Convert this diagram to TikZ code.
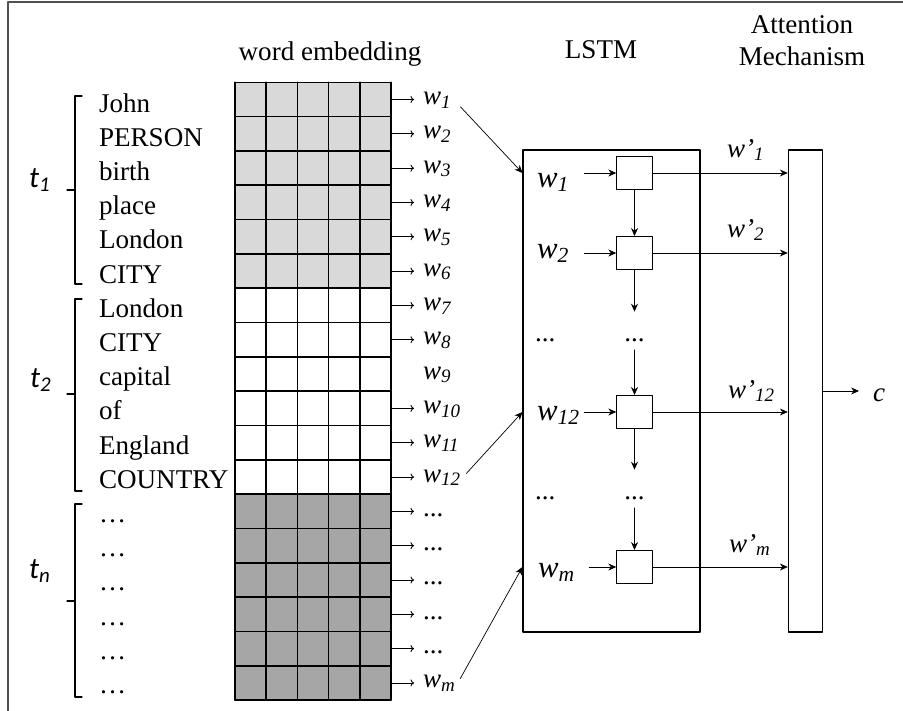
\documentclass[tikz,border=0pt]{standalone}
\usepackage{fontspec}
\setmainfont{Liberation Serif}
\newfontfamily\calfont{Carlito}
\usetikzlibrary{arrows.meta}
\definecolor{embA}{RGB}{217,217,217}
\definecolor{embB}{RGB}{166,166,166}
\definecolor{framegray}{RGB}{80,80,80}
\newcommand{\vw}[1]{\textit{w}\textsubscript{\textit{#1}}}
\newcommand{\vwp}[1]{\textit{w’}\textsubscript{\textit{#1}}}
\newcommand{\tlab}[1]{{\calfont\fontsize{17}{20}\selectfont\itshape t\textsubscript{#1}}}

\begin{document}
\begin{tikzpicture}[x=0.2mm,y=-0.2mm,line cap=round,line join=round,>={Stealth[length=4.5pt,width=4pt]},
  font=\fontsize{15.4}{18.2}\selectfont,
  lbl/.style={inner sep=1pt,anchor=base west},
  wlbl/.style={lbl,text height=3.2mm,text depth=1.2mm},
  inlbl/.style={lbl,font=\fontsize{17.5}{20}\selectfont},
  cell/.style={draw,line width=0.6pt,inner sep=0pt,minimum width=7.1mm,minimum height=6.6mm},
  hdots/.style={inner sep=0pt,text height=5.8mm,text depth=1.7mm,anchor=base},
  bigbox/.style={draw,line width=0.6pt,inner sep=0pt,minimum height=96.4mm},
  small/.style={-{To[length=2pt,width=4pt]},line width=0.5pt,shorten >=1.4mm},
  bracket/.style={line width=0.6pt}]
\useasboundingbox (0,0) rectangle (903,711);
\draw[framegray,line width=1pt] (903,2) -- (8,2) -- (8,711);

\node[anchor=base] (embtitle) at (330,60) {word embedding};
\node[anchor=base] (lstmtitle) at (601,58) {LSTM};
\node[align=center] (atttitle) at (802,41) {Attention\\Mechanism};

\fill[embA] (235,82.3) rectangle (391,288.2);
\fill[embB] (235,494.1) rectangle (391,700);
\foreach \i in {0,...,5} \draw[line width=0.9pt] (235+31.2*\i,82.3) -- (235+31.2*\i,700);
\foreach \j in {0,...,18} \draw[line width=0.9pt] (235,82.3+34.32*\j) -- (391,82.3+34.32*\j);
\coordinate (embR) at (392,82.3);

\foreach \s [count=\j] in {John,PERSON,birth,place,London,CITY,London,CITY,capital,of,England,COUNTRY,…,…,…,…,…,…}
  \node[lbl] (word\j) at (97,112+34.2*\j-34.2) {\s};

\foreach \a/\b/\m in {96/284/190,299/491/394,504/697/601}
  \draw[bracket] (82,\a) -- (75,\a) -- (75,\b) -- (82,\b) (75,\m) -- (67,\m);
\node[lbl] (t1) at (27,187) {\tlab{1}};
\node[lbl] (t2) at (28,387) {\tlab{2}};
\node[lbl] (tn) at (27,578) {\tlab{n}};

\foreach \s [count=\j] in {\vw{1},\vw{2},\vw{3},\vw{4},\vw{5},\vw{6},\vw{7},\vw{8},\vw{9},\vw{10},\vw{11},\vw{12},{.\kern0pt.\kern0pt.},{.\kern0pt.\kern0pt.},{.\kern0pt.\kern0pt.},{.\kern0pt.\kern0pt.},{.\kern0pt.\kern0pt.},\vw{m}}{
  \node[wlbl] (w\j) at (421,104.5+34.32*\j-34.32) {\s};
  \ifnum\j=9\else\draw[small] (w\j.west -| embR) -- (w\j.west);\fi
}

\node[bigbox,minimum width=35.4mm] (lstm) at (611.5,391) {};
\node[bigbox,minimum width=6.8mm] (att) at (805.3,391) {};
\node[cell] (c1) at (634.5,173) {};
\node[cell] (c2) at (634.5,253) {};
\node[cell] (c3) at (634.5,412) {};
\node[cell] (c4) at (634.5,567) {};
\node[hdots] (d1) at (634.5,341) {...};
\node[hdots] (d2) at (634.5,499) {...};
\node[inlbl] (in1) at (535,187) {\vw{1}};
\node[inlbl] (in2) at (535,258) {\vw{2}};
\node[inlbl] (in12) at (535,420) {\vw{12}};
\node[inlbl] (inm) at (536,577) {\vw{m}};
\node[lbl] (ld1) at (533,341) {...};
\node[lbl] (ld2) at (533,499) {...};
\node[lbl] (o1) at (725,157) {\vwp{1}};
\node[lbl] (o2) at (725,237) {\vwp{2}};
\node[lbl] (o12) at (726,398) {\vwp{12}};
\node[lbl] (om) at (727,552) {\vwp{m}};
\node[lbl] (cout) at (871,401.7) {\textit{c}};

\draw[->] ([xshift=-6.4mm]c1.west) -- (c1);
\draw[->] ([xshift=-6.4mm]c2.west) -- (c2);
\draw[->] ([xshift=-6.4mm]c3.west) -- (c3);
\draw[->] ([xshift=-5.4mm]c4.west) -- (c4);
\draw[->] (c1) -- (c2);
\draw[->] (c2) -- (d1);
\draw[->] (d1) -- (c3);
\draw[->] (c3) -- (d2);
\draw[->] (d2) -- (c4);
\foreach \c in {c1,c2,c3,c4} \draw[->] (\c) -- (\c -| att.west);
\draw[->,shorten >=2.4mm] (att.east) -- (att.east -| cout.west);

\draw[->,shorten <=2mm] (w1.east) -- (lstm.west |- c1);
\draw[->,shorten <=1mm] (w12.east) -- (lstm.west |- c3);
\draw[->,shorten <=1mm] (w18.east) -- (lstm.west |- c4);
\end{tikzpicture}
\end{document}
